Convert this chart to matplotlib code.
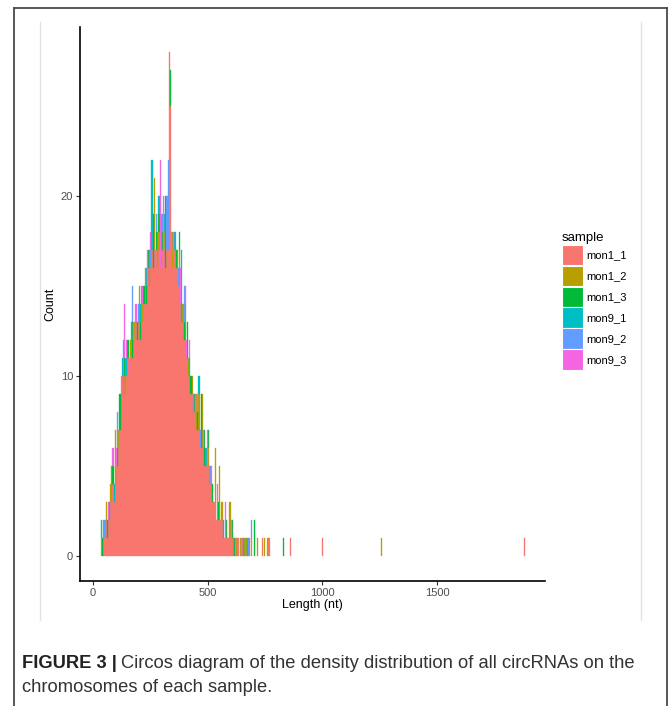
import numpy as np
import matplotlib
matplotlib.use("Agg")
import matplotlib.pyplot as plt
from matplotlib.lines import Line2D
from matplotlib.patches import Patch

# ---------------- data ----------------
samples = ["mon1_1", "mon1_2", "mon1_3", "mon9_1", "mon9_2", "mon9_3"]
colors = ["#F8766D", "#B79F00", "#00BA38", "#00BFC4", "#619CFF", "#F564E3"]
bin_width = 5
x_ticks = [0, 500, 1000, 1500]
y_ticks = [0, 10, 20]

# mon1_1: counts in 5-nt bins starting at 30, 35, ..., 605
mon1_1_start = 30
mon1_1_counts = [
    0, 1, 0, 1, 1, 2, 1, 2, 2, 3,        # 30-75
    3, 4, 3, 4, 5, 5, 6, 7, 9, 10,       # 80-125
    9, 10, 9, 10, 11, 10, 11, 12, 11, 12,  # 130-175
    12, 13, 12, 13, 13, 12, 14, 13, 14, 15,  # 180-225
    14, 15, 16, 15, 16, 17, 16, 17, 16, 17,  # 230-275
    16, 17, 16, 17, 17, 16, 17, 16, 17, 17,  # 280-325
    28, 25, 17, 16, 17, 17, 16, 16, 15, 15,  # 330-375
    14, 13, 13, 12, 12, 11, 11, 10, 10, 9,   # 380-425
    9, 8, 8, 8, 7, 7, 7, 6, 6, 6,            # 430-475
    6, 5, 5, 5, 5, 4, 4, 4, 3, 3,            # 480-525
    3, 2, 3, 2, 2, 2, 2, 1, 1, 1, 1,         # 530-580
    1, 1, 1, 1, 1,                           # 585-605
]
mon1_1_tail_len = [630, 650, 690, 735, 765, 860, 1000, 1880]
mon1_1_tail_cnt = [1, 1, 1, 1, 1, 1, 1, 1]

mon1_2_len = [45, 55, 75, 80, 95, 110, 130, 140, 160, 180, 200, 215, 225, 245, 265,
              280, 285, 295, 310, 345, 365, 375, 390, 400, 415, 430, 450, 460, 475,
              500, 505, 530, 550, 560, 595, 610, 625, 640, 660, 665, 680, 715, 745,
              760, 1255]
mon1_2_cnt = [1, 1, 1, 2, 3, 1, 1, 2, 1, 1, 2, 1, 1, 2, 4,
              2, 1, 2, 1, 2, 1, 2, 1, 2, 1, 1, 2, 2, 3,
              1, 1, 3, 3, 1, 2, 1, 1, 1, 1, 1, 1, 1, 1,
              1, 1]

mon1_3_len = [40, 60, 85, 105, 115, 135, 150, 170, 190, 205, 220, 230, 240, 260,
              275, 285, 300, 315, 335, 360, 375, 395, 410, 425, 440, 455, 470, 485,
              500, 520, 545, 580, 605, 615, 700, 830]
mon1_3_cnt = [1, 1, 1, 1, 2, 1, 1, 2, 1, 1, 1, 1, 1, 3,
              1, 1, 1, 4, 2, 1, 1, 1, 2, 1, 1, 1, 3, 2,
              1, 1, 1, 1, 1, 1, 2, 1]

mon9_1_len = [35, 70, 90, 125, 145, 165, 205, 230, 255, 285, 310, 355, 385, 420,
              460, 490, 565, 655, 670]
mon9_1_cnt = [1, 1, 1, 1, 1, 1, 1, 1, 5, 1, 1, 1, 4, 1,
              1, 1, 1, 1, 1]

mon9_2_len = [50, 105, 130, 170, 195, 210, 250, 275, 300, 320, 325, 370, 395, 435,
              465, 510, 675, 690]
mon9_2_cnt = [1, 2, 2, 2, 1, 1, 1, 1, 1, 3, 5, 1, 2, 1,
              1, 1, 1, 1]

mon9_3_len = [65, 85, 100, 120, 135, 145, 155, 175, 185, 215, 235, 250, 270, 290,
              305, 340, 350, 380, 400, 405, 420, 445, 455, 480, 495, 515, 540, 575,
              600, 620, 645]
mon9_3_cnt = [1, 1, 1, 1, 3, 1, 1, 1, 1, 1, 2, 1, 1, 6,
              4, 1, 1, 2, 1, 1, 1, 1, 1, 1, 2, 1, 1, 2,
              1, 1, 1]

# ---------------- build stacked histogram ----------------
grid = np.arange(30, 1890, bin_width)
index = {int(v): i for i, v in enumerate(grid)}

def to_grid(lengths, counts):
    arr = np.zeros(len(grid))
    for L, c in zip(lengths, counts):
        arr[index[L]] += c
    return arr

red_len = [mon1_1_start + bin_width * i for i in range(len(mon1_1_counts))] + mon1_1_tail_len
red_cnt = list(mon1_1_counts) + mon1_1_tail_cnt
series = [
    to_grid(red_len, red_cnt),
    to_grid(mon1_2_len, mon1_2_cnt),
    to_grid(mon1_3_len, mon1_3_cnt),
    to_grid(mon9_1_len, mon9_1_cnt),
    to_grid(mon9_2_len, mon9_2_cnt),
    to_grid(mon9_3_len, mon9_3_cnt),
]

# ---------------- figure ----------------
W, H = 670, 706
fig = plt.figure(figsize=(W / 100, H / 100), dpi=100)
fig.patch.set_facecolor("white")

def fx(px):
    return px / W

def fy(py):
    return 1 - py / H

sans = ["Liberation Sans", "DejaVu Sans"]
ax_l, ax_r, ax_t, ax_b = 80, 545, 27, 581
ax = fig.add_axes([fx(ax_l), fy(ax_b), fx(ax_r - ax_l), (ax_b - ax_t) / H])

centers = grid + bin_width / 2
bottom = np.zeros(len(grid))
handles = []
for name, col, vals in zip(samples, colors, series):
    mask = vals > 0
    ax.bar(centers[mask], vals[mask], width=bin_width, bottom=bottom[mask],
           color=col, edgecolor=col, linewidth=0.25)
    bottom = bottom + vals
    handles.append(Patch(facecolor=col, edgecolor="white", linewidth=0.8, label=name))

ax.set_xlim(-56.7, 1971)
ax.set_ylim(-1.4, 29.4)
ax.set_xticks(x_ticks)
ax.set_yticks(y_ticks)
for s in ["top", "right"]:
    ax.spines[s].set_visible(False)
for s in ["left", "bottom"]:
    ax.spines[s].set_color("black")
    ax.spines[s].set_linewidth(1.2)
ax.tick_params(axis="both", length=3, width=0.8, color="#333333",
               labelsize=8, labelcolor="#4D4D4D", pad=2)
for lab in ax.get_xticklabels() + ax.get_yticklabels():
    lab.set_family(sans)
ax.set_xlabel("Length (nt)", fontsize=9, family=sans, labelpad=1)
ax.set_ylabel("Count", fontsize=9, family=sans, labelpad=3)

leg = ax.legend(handles=handles, title="sample", loc="upper left",
                bbox_to_anchor=(fx(562), fy(232)), bbox_transform=fig.transFigure,
                frameon=False, title_fontsize=9.5,
                handlelength=1.9, handleheight=2.45, labelspacing=0.05,
                handletextpad=0.3, borderpad=0, borderaxespad=0,
                alignment="left", prop={"family": sans, "size": 8})
leg.get_title().set_family(sans)

# frame and decorations
border_col = "#4a4a4a"
fig.add_artist(Line2D([fx(14), fx(14)], [fy(8), fy(706)], color=border_col, lw=1.3))
fig.add_artist(Line2D([fx(14), fx(667)], [fy(8), fy(8)], color=border_col, lw=1.3))
fig.add_artist(Line2D([fx(667), fx(667)], [fy(8), fy(706)], color=border_col, lw=1.3))
for gx in (40, 641):
    fig.add_artist(Line2D([fx(gx), fx(gx)], [fy(22), fy(620)], color="#e2e2e2", lw=1))

# caption
cap_family = ["Liberation Sans Narrow", "Liberation Sans", "DejaVu Sans"]
cap_size = 13.2
t1 = fig.text(fx(22), fy(663), "FIGURE 3 |", fontsize=cap_size, fontweight="bold",
              family=cap_family, va="center", ha="left", color="#222222")
fig.canvas.draw()
bb = t1.get_window_extent(renderer=fig.canvas.get_renderer())
fig.text(fx(bb.x1 + 4), fy(663),
         "Circos diagram of the density distribution of all circRNAs on the",
         fontsize=cap_size, family=cap_family, va="center", ha="left", color="#333333")
fig.text(fx(22), fy(688), "chromosomes of each sample.", fontsize=cap_size,
         family=cap_family, va="center", ha="left", color="#333333")

fig.savefig("out.png", dpi=100)
